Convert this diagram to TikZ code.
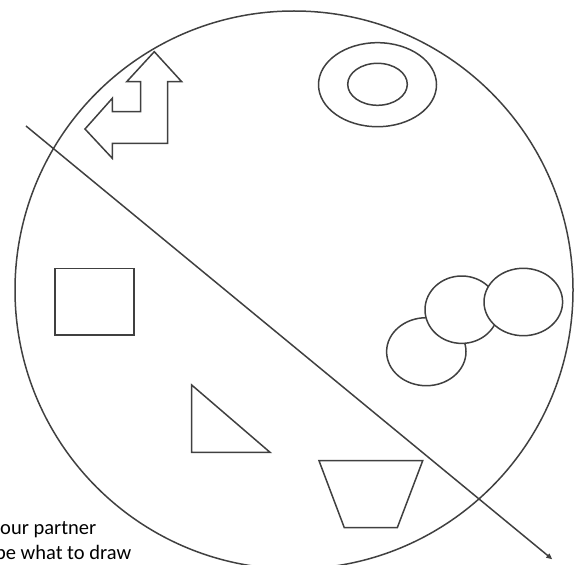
\documentclass[tikz,border=0pt]{standalone}
\usepackage{fontspec}
\setmainfont{Carlito}
\usetikzlibrary{arrows.meta}
\tikzset{
  shape line/.style={draw=black!75, line width=1.5pt, line join=miter},
  white shape/.style={shape line, fill=white},
  caption text/.style={anchor=base west, inner sep=0pt, font=\fontsize{20.5}{25}\selectfont, text=black}
}
\begin{document}
\begin{tikzpicture}[x=1pt, y=-1pt]
\useasboundingbox (0,0) rectangle (580,564);
\clip (0,0) rectangle (580,564);
% big circle
\draw[shape line] (294,290) circle[radius=279];
% bent arrow
\draw[shape line] (154.3,51.7) -- (181.7,81.7) -- (167.7,81.7) -- (167.7,143.3) -- (112.3,143.3)
  -- (112.3,158.3) -- (85,129) -- (112.3,98.3) -- (112.3,111.7) -- (140.7,111.7)
  -- (140.7,81.7) -- (126.7,81.7) -- cycle;
% concentric ellipses
\draw[shape line] (377.5,84.7) ellipse[x radius=59, y radius=42];
\draw[shape line] (377.5,84.3) ellipse[x radius=29.8, y radius=21];
% three overlapping ellipses
\draw[white shape] (426.3,351.7) ellipse[x radius=39.7, y radius=34];
\draw[white shape] (461.7,309.7) ellipse[x radius=36.7, y radius=33.7];
\draw[white shape] (523.3,302) ellipse[x radius=39.3, y radius=33.7];
% rectangle
\draw[shape line] (55,268.3) rectangle (134,335);
% triangle
\draw[shape line] (191.7,385) -- (191.7,452.3) -- (270,452.3) -- cycle;
% trapezoid
\draw[shape line] (319,460.7) -- (422.7,460.7) -- (397.3,527.7) -- (344.3,527.7) -- cycle;
% diagonal arrow
\coordinate (ls) at (26,126);
\coordinate (le) at (552.3,559.3);
\draw[shape line, -{Triangle[length=6pt, width=5pt]}] (ls) -- (le);
% text
\node[caption text] (t1) at (0,534) {our partner};
\node[caption text] (t2) at (-5.1,559) {be what to draw};
\end{tikzpicture}
\end{document}
